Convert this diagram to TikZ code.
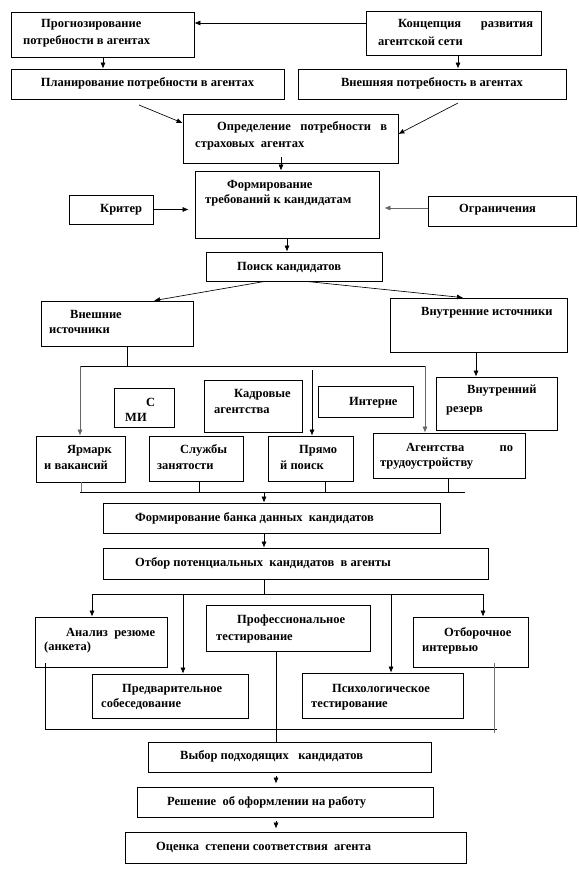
\documentclass[tikz,border=0pt]{standalone}
\usepackage{fontspec}
\setmainfont{Liberation Serif}
\usetikzlibrary{arrows.meta}
\newcommand\mybox[5]{\node[box, minimum width={(#4-#2)*1pt}, minimum height={(#5-#3)*1pt}] (#1) at ({(#2+#4)/2},{(#3+#5)/2}) {};}
\newcommand\mytext[4]{\node[txt] (#1) at (#2,{#3+4}) {#4};}
\begin{document}
\begin{tikzpicture}[x=1pt,y=-1pt,
  box/.style={draw, line width=0.75pt, inner sep=0pt},
  txt/.style={inner sep=0pt, anchor=base west, font=\fontsize{12.5}{14}\selectfont\bfseries},
  ctxt/.style={txt, anchor=base},
  ln/.style={line width=0.65pt},
  arr/.style={ln, -{Latex[length=6pt,width=5pt]}},
  gln/.style={ln, black!55}]
\useasboundingbox (0,0) rectangle (578,869);
% boxes
\mybox{prog}{11}{12}{194}{57}
\mybox{konc}{366}{11}{541}{55}
\mybox{plan}{11}{69}{284}{99}
\mybox{vnesh}{298}{69}{566}{99}
\mybox{opr}{183}{114}{398}{163}
\mybox{form}{195}{171}{379}{238}
\mybox{krit}{69}{195}{153}{224}
\mybox{ogr}{428}{196}{576}{226}
\mybox{poisk}{206}{252}{382}{281}
\mybox{vneshI}{41}{301}{193}{346}
\mybox{vnutrI}{390}{298}{567}{352}
\mybox{smi}{114}{388}{174}{427}
\mybox{kadr}{204}{380}{302}{432}
\mybox{inet}{318}{386}{413}{417}
\mybox{rez}{436}{377}{557}{430}
\mybox{yarm}{36}{436}{125}{482}
\mybox{sluzh}{149}{436}{243}{481}
\mybox{pryam}{268}{436}{353}{481}
\mybox{agent}{373}{433}{525}{478}
\mybox{bank}{103}{503}{440}{533}
\mybox{otbor}{103}{548}{488}{579}
\mybox{anal}{35}{617}{167}{667}
\mybox{prof}{206}{605}{370}{651}
\mybox{otbi}{413}{617}{528}{667}
\mybox{pred}{92}{674}{248}{718}
\mybox{psych}{302}{673}{463}{718}
\mybox{vybor}{148}{742}{431}{772}
\mybox{resh}{137}{787}{433}{817}
\mybox{ocen}{125}{832}{466}{863}
% texts
\mytext{progA}{41}{24}{Прогнозирование}
\mytext{progB}{23}{41}{потребности в агентах}
\mytext{koncA}{398}{24}{\makebox[135pt][s]{Концепция развития}}
\mytext{koncB}{378}{42}{агентской сети}
\node[ctxt] (planA) at (plan.center |- 0,87) {Планирование потребности в агентах};
\node[ctxt] (vneshA) at (vnesh.center |- 0,87) {Внешняя потребность в агентах};
\mytext{oprA}{217}{127}{\makebox[170pt][s]{Определение потребности в}}
\mytext{oprB}{195}{144}{страховых\ \ агентах}
\mytext{formA}{227}{185}{Формирование}
\mytext{formB}{205}{200}{требований к кандидатам}
\mytext{kritA}{100}{208}{Критер}
\mytext{ogrA}{459}{208}{Ограничения}
\mytext{poiskA}{237}{266}{Поиск кандидатов}
\mytext{vneshIA}{70}{314}{Внешние}
\mytext{vneshIB}{49}{329}{источники}
\mytext{vnutrIA}{421}{311}{Внутренние источники}
\mytext{smiA}{146}{402}{С}
\mytext{smiB}{125}{417}{МИ}
\mytext{kadrA}{234}{393}{Кадровые}
\mytext{kadrB}{214}{409}{агентства}
\mytext{inetA}{349}{401}{Интерне}
\mytext{rezA}{467}{389}{Внутренний}
\mytext{rezB}{446}{408}{резерв}
\mytext{yarmA}{67}{449}{Ярмарк}
\mytext{yarmB}{44}{465}{и вакансий}
\mytext{sluzhA}{180}{449}{Службы}
\mytext{sluzhB}{157}{465}{занятости}
\mytext{pryamA}{299}{449}{Прямо}
\mytext{pryamB}{280}{465}{й поиск}
\mytext{agentA}{406}{447}{\makebox[107pt][s]{Агентства по}}
\mytext{agentB}{380}{462}{трудоустройству}
\mytext{bankA}{135}{517}{Формирование банка данных\ \ кандидатов}
\mytext{otborA}{135}{562}{Отбор потенциальных\ \ кандидатов\ \ в агенты}
\mytext{analA}{66}{632}{Анализ\ \ резюме}
\mytext{analB}{44}{646}{(анкета)}
\mytext{profA}{237}{619}{Профессиональное}
\mytext{profB}{216}{636}{тестирование}
\mytext{otbiA}{444}{632}{Отборочное}
\mytext{otbiB}{422}{647}{интервью}
\mytext{predA}{122}{688}{Предварительное}
\mytext{predB}{101}{703}{собеседование}
\mytext{psychA}{332}{688}{Психологическое}
\mytext{psychB}{311}{703}{тестирование}
\mytext{vyborA}{180}{755}{Выбор подходящих\ \ \ кандидатов}
\mytext{reshA}{167}{801}{Решение\ \ об оформлении на работу}
\mytext{ocenA}{156}{846}{Оценка\ \ степени соответствия\ \ агента}
% connectors, top
\draw[arr] (konc.west |- 0,23) -- (prog.east |- 0,23);
\coordinate (a1) at (103,0);
\coordinate (a2) at (458,0);
\draw[arr] (prog.south -| a1) -- (plan.north -| a1);
\draw[arr] (konc.south -| a2) -- (vnesh.north -| a2);
\coordinate (d1) at (139,105);
\coordinate (d2) at (458,103);
\draw[arr] (d1) -- (opr.west |- 0,123);
\draw[arr] (d2) -- (opr.east |- 0,134);
\coordinate (d3) at (281,157);
\draw[arr] (d3) -- (form.north -| d3);
\draw[arr, shorten >=6pt] (krit.east) -- (form.west |- krit.east);
\draw[arr, black!60, shorten >=5pt] (ogr.west |- 0,208) -- (form.east |- 0,208);
\coordinate (a3) at (287,0);
\draw[arr] (form.south -| a3) -- (poisk.north -| a3);
\coordinate (a4) at (265,0);
\coordinate (a5) at (154,0);
\coordinate (a6) at (306,0);
\coordinate (a7) at (463,0);
\draw[arr] (poisk.south -| a4) -- (vneshI.north -| a5);
\draw[arr] (poisk.south -| a6) -- (vnutrI.north -| a7);
% sources
\coordinate (b0) at (127,366);
\coordinate (bL) at (80,366);
\coordinate (bR) at (425,366);
\draw[ln] (vneshI.south -| b0) -- (b0);
\draw[ln] (bL) -- (bR);
\draw[arr, black!60] (bL) -- (yarm.north -| bL);
\draw[arr, black!60] (bR) -- (agent.north -| bR);
\coordinate (b1) at (312,370);
\draw[arr] (b1) -- (pryam.north -| b1);
\coordinate (a8) at (476,0);
\draw[arr] (vnutrI.south -| a8) -- (rez.north -| a8);
% collect
\coordinate (c0) at (80,492);
\coordinate (c1) at (81,492);
\coordinate (c2) at (199,492);
\coordinate (c3) at (325,492);
\coordinate (c4) at (448,492);
\coordinate (c5) at (465,492);
\draw[gln] (yarm.south -| c1) -- (c1);
\draw[ln] (sluzh.south -| c2) -- (c2);
\draw[ln] (pryam.south -| c3) -- (c3);
\draw[ln] (agent.south -| c4) -- (c4);
\draw[ln] (c0) -- (c5);
\coordinate (cm) at (264,492);
\draw[arr] (cm) -- (bank.north -| cm);
\draw[arr] (bank.south -| cm) -- (otbor.north -| cm);
% selection
\coordinate (e0) at (264,594);
\coordinate (e1) at (92,594);
\coordinate (e2) at (183,594);
\coordinate (e3) at (391,594);
\coordinate (e4) at (483,594);
\draw[ln] (otbor.south -| e0) -- (e0);
\draw[ln] (e1) -- (e4);
\draw[arr] (e1) -- (anal.north -| e1);
\draw[arr] (e2) -- (pred.north -| e2);
\draw[arr] (e3) -- (psych.north -| e3);
\draw[arr] (e4) -- (otbi.north -| e4);
\coordinate (f1) at (45,663);
\coordinate (f2) at (45,729);
\coordinate (f3) at (497,729);
\coordinate (f4) at (494,663);
\coordinate (f5) at (494,733);
\draw[ln] (f1) -- (f2) -- (f3);
\draw[gln] (f4) -- (f5);
\coordinate (g) at (276,0);
\draw[ln] (prof.south -| g) -- (vybor.north -| g);
\draw[arr, shorten <=4pt, shorten >=3pt] (vybor.south -| g) -- (resh.north -| g);
\draw[arr, shorten <=4pt, shorten >=3pt] (resh.south -| g) -- (ocen.north -| g);
\end{tikzpicture}
\end{document}
